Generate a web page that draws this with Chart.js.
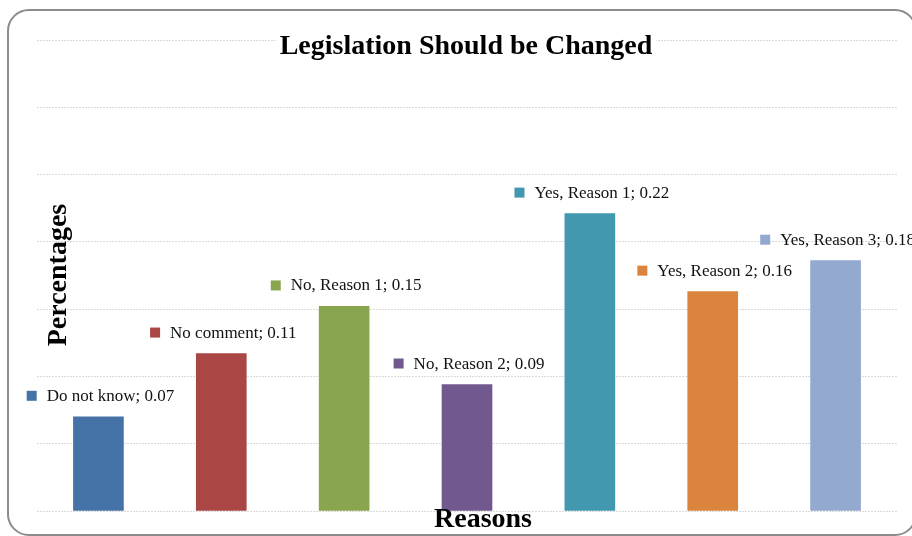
<!DOCTYPE html>
<html>
<head>
<meta charset="utf-8">
<title>Legislation Should be Changed</title>
<script src="https://cdn.jsdelivr.net/npm/chart.js@4.4.1/dist/chart.umd.min.js"></script>
<style>
  html, body { margin: 0; padding: 0; background: #fff; }
  #wrap { position: relative; width: 912px; height: 536px; overflow: hidden; }
  #wrap canvas { position: absolute; left: 0; top: 0; }
  #frame {
    position: absolute; left: 7px; top: 9px; width: 910px; height: 527px;
    border: 2px solid #8c8c8c; border-radius: 22px; box-sizing: border-box;
    pointer-events: none;
  }
</style>
</head>
<body>
<div id="wrap">
  <canvas id="legislationChart" width="912" height="536"></canvas>
  <div id="frame"></div>
</div>
<script>
// Chart data
const categories = ["Do not know", "No comment", "No, Reason 1", "No, Reason 2", "Yes, Reason 1", "Yes, Reason 2", "Yes, Reason 3"];
const shares = [0.070, 0.117, 0.152, 0.094, 0.221, 0.163, 0.186];
const shareLabels = ["0.07", "0.11", "0.15", "0.09", "0.22", "0.16", "0.18"];
const barColors = ["#4572A7", "#AA4643", "#89A54E", "#71588F", "#4198AF", "#DB843D", "#93A9CF"];
const yMin = 0;
const yMax = 0.35;
const yStep = 0.05;

const chartTitle = "Legislation Should be Changed";
const xTitle = "Reasons";
const yTitle = "Percentages";

document.addEventListener("DOMContentLoaded", () => {
  const ctx = document.getElementById("legislationChart");
  const serif = "'Liberation Serif', 'Times New Roman', serif";

  // Labels with a colour key above every bar, plus titles
  const labelPlugin = {
    id: "barLabels",
    afterDraw(chart) {
      const c = chart.ctx;
      const area = chart.chartArea;
      const meta = chart.getDatasetMeta(0);
      c.save();
      c.textBaseline = "alphabetic";

      c.font = `17px ${serif}`;
      meta.data.forEach((bar, i) => {
        const text = `${categories[i]}; ${shareLabels[i]}`;
        const w = 20 + c.measureText(text).width;
        const left = bar.x + 2 - w / 2;
        const base = bar.y - 16;
        c.fillStyle = barColors[i];
        c.fillRect(left, base - 10, 10, 10);
        c.fillStyle = "#111";
        c.textAlign = "left";
        c.fillText(text, left + 20, base);
      });

      // chart title sits on top of the highest gridline
      c.font = `bold 28px ${serif}`;
      c.textAlign = "center";
      const tw = c.measureText(chartTitle).width;
      c.fillStyle = "#fff";
      c.fillRect(466 - tw / 2 - 4, area.top - 4, tw + 8, 8);
      c.fillStyle = "#000";
      c.fillText(chartTitle, 466, 54);

      c.fillText(xTitle, 483, 527);

      c.translate(66, 275);
      c.rotate(-Math.PI / 2);
      c.fillText(yTitle, 0, 0);
      c.restore();
    }
  };

  new Chart(ctx, {
    type: "bar",
    data: {
      labels: categories,
      datasets: [{
        data: shares,
        backgroundColor: barColors,
        barThickness: 50
      }]
    },
    options: {
      responsive: false,
      animation: false,
      devicePixelRatio: 1,
      layout: { padding: { left: 37, right: 15, top: 40, bottom: 25 } },
      plugins: {
        legend: { display: false },
        tooltip: { enabled: false }
      },
      scales: {
        x: { display: false },
        y: {
          min: yMin,
          max: yMax,
          ticks: { display: false, stepSize: yStep },
          grid: { color: "#d9d9d9", lineWidth: 1, drawTicks: false },
          border: { display: false, dash: [2, 1] },
          afterFit: s => { s.width = 0; }
        }
      }
    },
    plugins: [labelPlugin]
  });
});
</script>
</body>
</html>
